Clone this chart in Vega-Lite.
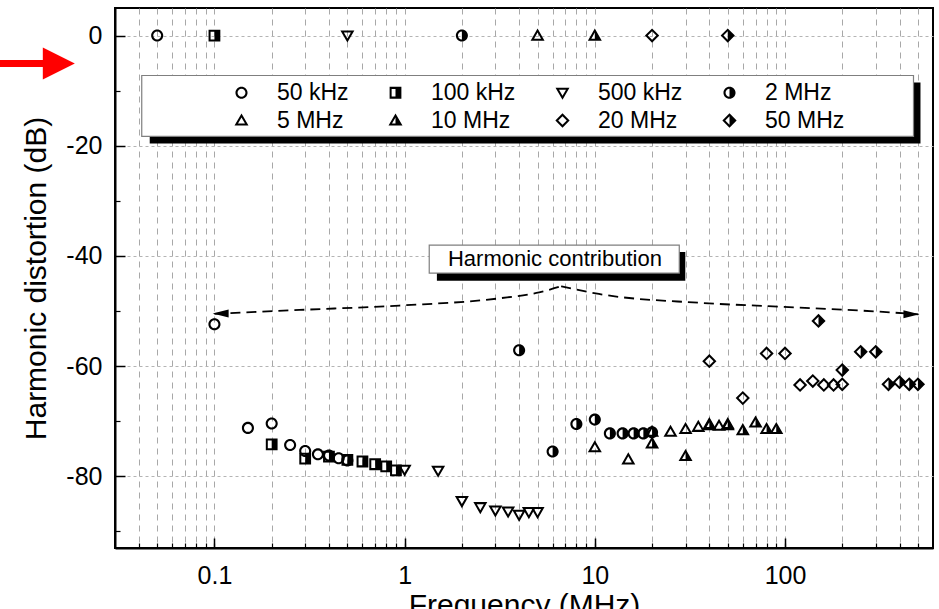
{
  "$schema": "https://vega.github.io/schema/vega-lite/v6.json",
  "width": 818,
  "height": 540,
  "autosize": {"type": "none"},
  "padding": {"left": 115, "top": 8, "right": 6, "bottom": 61},
  "config": {
    "font": "Liberation Sans",
    "view": {"stroke": "black", "strokeWidth": 2},
    "axis": {
      "domainColor": "black", "domainWidth": 2, "tickColor": "black",
      "labelColor": "black", "titleColor": "black", "titleFontWeight": "normal",
      "labelFont": "Liberation Sans", "titleFont": "Liberation Sans",
      "gridColor": "#a8a8a8", "gridWidth": 1
    }
  },
  "datasets": {
    "pts": [
      {"f": 0.05, "db": 0, "s": "50 kHz"},
      {"f": 0.1, "db": -52.4, "s": "50 kHz"},
      {"f": 0.15, "db": -71.2, "s": "50 kHz"},
      {"f": 0.2, "db": -70.4, "s": "50 kHz"},
      {"f": 0.25, "db": -74.3, "s": "50 kHz"},
      {"f": 0.3, "db": -75.4, "s": "50 kHz"},
      {"f": 0.35, "db": -76.0, "s": "50 kHz"},
      {"f": 0.4, "db": -76.2, "s": "50 kHz"},
      {"f": 0.45, "db": -76.7, "s": "50 kHz"},
      {"f": 0.5, "db": -77.1, "s": "50 kHz"},
      {"f": 0.1, "db": 0, "s": "100 kHz"},
      {"f": 0.2, "db": -74.2, "s": "100 kHz"},
      {"f": 0.3, "db": -76.8, "s": "100 kHz"},
      {"f": 0.4, "db": -76.4, "s": "100 kHz"},
      {"f": 0.5, "db": -77.0, "s": "100 kHz"},
      {"f": 0.6, "db": -77.3, "s": "100 kHz"},
      {"f": 0.7, "db": -77.8, "s": "100 kHz"},
      {"f": 0.8, "db": -78.2, "s": "100 kHz"},
      {"f": 0.9, "db": -78.9, "s": "100 kHz"},
      {"f": 0.5, "db": 0, "s": "500 kHz"},
      {"f": 1.0, "db": -78.8, "s": "500 kHz"},
      {"f": 1.5, "db": -79.0, "s": "500 kHz"},
      {"f": 2, "db": -84.5, "s": "500 kHz"},
      {"f": 2.5, "db": -85.6, "s": "500 kHz"},
      {"f": 3, "db": -86.2, "s": "500 kHz"},
      {"f": 3.5, "db": -86.4, "s": "500 kHz"},
      {"f": 4, "db": -87.0, "s": "500 kHz"},
      {"f": 4.5, "db": -86.5, "s": "500 kHz"},
      {"f": 5, "db": -86.5, "s": "500 kHz"},
      {"f": 2, "db": 0, "s": "2 MHz"},
      {"f": 4, "db": -57.1, "s": "2 MHz"},
      {"f": 6, "db": -75.5, "s": "2 MHz"},
      {"f": 8, "db": -70.5, "s": "2 MHz"},
      {"f": 10, "db": -69.7, "s": "2 MHz"},
      {"f": 12, "db": -72.2, "s": "2 MHz"},
      {"f": 14, "db": -72.2, "s": "2 MHz"},
      {"f": 16, "db": -72.2, "s": "2 MHz"},
      {"f": 18, "db": -72.2, "s": "2 MHz"},
      {"f": 20, "db": -72.0, "s": "2 MHz"},
      {"f": 5, "db": 0, "s": "5 MHz"},
      {"f": 10, "db": -74.7, "s": "5 MHz"},
      {"f": 15, "db": -76.9, "s": "5 MHz"},
      {"f": 20, "db": -71.9, "s": "5 MHz"},
      {"f": 25, "db": -71.9, "s": "5 MHz"},
      {"f": 30, "db": -71.4, "s": "5 MHz"},
      {"f": 35, "db": -71.0, "s": "5 MHz"},
      {"f": 40, "db": -70.7, "s": "5 MHz"},
      {"f": 45, "db": -70.8, "s": "5 MHz"},
      {"f": 50, "db": -70.7, "s": "5 MHz"},
      {"f": 10, "db": 0, "s": "10 MHz"},
      {"f": 20, "db": -74.0, "s": "10 MHz"},
      {"f": 30, "db": -76.3, "s": "10 MHz"},
      {"f": 40, "db": -70.5, "s": "10 MHz"},
      {"f": 50, "db": -70.5, "s": "10 MHz"},
      {"f": 60, "db": -71.6, "s": "10 MHz"},
      {"f": 70, "db": -70.2, "s": "10 MHz"},
      {"f": 80, "db": -71.4, "s": "10 MHz"},
      {"f": 90, "db": -71.4, "s": "10 MHz"},
      {"f": 20, "db": 0, "s": "20 MHz"},
      {"f": 40, "db": -59.1, "s": "20 MHz"},
      {"f": 60, "db": -65.8, "s": "20 MHz"},
      {"f": 80, "db": -57.7, "s": "20 MHz"},
      {"f": 100, "db": -57.7, "s": "20 MHz"},
      {"f": 120, "db": -63.4, "s": "20 MHz"},
      {"f": 140, "db": -62.7, "s": "20 MHz"},
      {"f": 160, "db": -63.4, "s": "20 MHz"},
      {"f": 180, "db": -63.4, "s": "20 MHz"},
      {"f": 200, "db": -63.3, "s": "20 MHz"},
      {"f": 50, "db": 0, "s": "50 MHz"},
      {"f": 150, "db": -51.8, "s": "50 MHz"},
      {"f": 200, "db": -60.7, "s": "50 MHz"},
      {"f": 250, "db": -57.4, "s": "50 MHz"},
      {"f": 300, "db": -57.4, "s": "50 MHz"},
      {"f": 350, "db": -63.3, "s": "50 MHz"},
      {"f": 400, "db": -62.9, "s": "50 MHz"},
      {"f": 450, "db": -63.3, "s": "50 MHz"},
      {"f": 500, "db": -63.3, "s": "50 MHz"}
    ],
    "curve": [
      {"f": 0.1, "db": -50.5, "side": "L"},
      {"f": 0.28, "db": -49.8, "side": "L"},
      {"f": 0.937, "db": -49.0, "side": "L"},
      {"f": 3.13, "db": -47.7, "side": "L"},
      {"f": 5.1, "db": -46.6, "side": "L"},
      {"f": 6.65, "db": -45.5, "side": "L"},
      {"f": 6.65, "db": -45.5, "side": "R"},
      {"f": 10.5, "db": -46.9, "side": "R"},
      {"f": 35.3, "db": -48.5, "side": "R"},
      {"f": 92.8, "db": -49.2, "side": "R"},
      {"f": 309, "db": -50.1, "side": "R"},
      {"f": 503, "db": -50.6, "side": "R"}
    ],
    "headL": [{"f": 0.1078, "db": -50.45}],
    "headR": [{"f": 462, "db": -50.6}],
    "shadows": [
      {"x1": 0.04568, "x2": 515.6, "y1": -8.51, "y2": -19.57},
      {"x1": 1.478, "x2": 29.9, "y1": -39.26, "y2": -44.5}
    ],
    "boxes": [
      {"x1": 0.04147, "x2": 473.8, "y1": -7.25, "y2": -18.3},
      {"x1": 1.347, "x2": 27.8, "y1": -38.04, "y2": -43.1}
    ],
    "notes": [
      {"f": 6.17, "db": -40.6, "text": "Harmonic contribution"}
    ],
    "redarrow": [
      {"from": 0.00745, "to": 0.0135, "head": 0.0152, "db": -5.07}
    ]
  },
  "resolve": {"axis": {"x": "independent", "y": "independent"}},
  "layer": [
    {
      "data": {"name": "curve"},
      "mark": {"type": "line", "color": "black", "strokeWidth": 1.8, "strokeDash": [10, 6], "interpolate": "monotone"},
      "encoding": {
        "x": {
          "field": "f", "type": "quantitative",
          "scale": {"type": "log", "domain": [0.03, 600], "nice": false},
          "axis": {
            "orient": "bottom",
            "values": [0.04, 0.05, 0.06, 0.07, 0.08, 0.09, 0.1, 0.2, 0.3, 0.4, 0.5, 0.6, 0.7, 0.8, 0.9, 1, 2, 3, 4, 5, 6, 7, 8, 9, 10, 20, 30, 40, 50, 60, 70, 80, 90, 100, 200, 300, 400, 500],
            "labels": false, "ticks": true, "tickSize": -5, "tickWidth": 1.2,
            "grid": true, "gridDash": [6, 5], "domain": false, "title": null
          }
        },
        "y": {
          "field": "db", "type": "quantitative",
          "scale": {"domain": [-93, 5], "nice": false, "zero": false},
          "axis": {
            "orient": "left",
            "values": [-10, -30, -50, -70, -90],
            "labels": false, "ticks": true, "tickSize": -5, "tickWidth": 1.2,
            "grid": false, "domain": false, "title": null
          }
        },
        "detail": {"field": "side"}
      }
    },
    {
      "data": {"name": "headL"},
      "mark": {"type": "point", "filled": true, "color": "black", "opacity": 1, "strokeWidth": 0, "size": 256, "shape": "M-1,0L1,-0.5L1,0.5Z"},
      "encoding": {
        "x": {"field": "f", "type": "quantitative", "scale": {"type": "log", "domain": [0.03, 600], "nice": false}, "axis": null},
        "y": {"field": "db", "type": "quantitative", "scale": {"domain": [-93, 5], "nice": false, "zero": false}, "axis": null}
      }
    },
    {
      "data": {"name": "headR"},
      "mark": {"type": "point", "filled": true, "color": "black", "opacity": 1, "strokeWidth": 0, "size": 256, "shape": "M1,0L-1,-0.5L-1,0.5Z"},
      "encoding": {
        "x": {"field": "f", "type": "quantitative", "scale": {"type": "log", "domain": [0.03, 600], "nice": false}, "axis": null},
        "y": {"field": "db", "type": "quantitative", "scale": {"domain": [-93, 5], "nice": false, "zero": false}, "axis": null}
      }
    },
    {
      "data": {"name": "pts"},
      "mark": {"type": "point", "filled": true, "color": "black", "opacity": 1, "strokeWidth": 0, "size": 240},
      "encoding": {
        "x": {
          "field": "f", "type": "quantitative",
          "scale": {"type": "log", "domain": [0.03, 600], "nice": false},
          "axis": {
            "orient": "bottom", "values": [0.1, 1, 10, 100], "format": "~g",
            "tickSize": -10, "tickWidth": 1.5, "labelFontSize": 25, "labelPadding": 25,
            "grid": false, "domain": true,
            "title": "Frequency (MHz)", "titleFontSize": 30, "titlePadding": 2
          }
        },
        "y": {
          "field": "db", "type": "quantitative",
          "scale": {"domain": [-93, 5], "nice": false, "zero": false},
          "axis": {
            "orient": "left", "values": [0, -20, -40, -60, -80],
            "labelExpr": "datum.value + ''",
            "tickSize": -10, "tickWidth": 1.5, "labelFontSize": 25, "labelPadding": 23,
            "grid": true, "gridDash": [3, 3], "gridColor": "#b4b4b4", "domain": true,
            "title": "Harmonic distortion (dB)", "titleFontSize": 30, "titlePadding": 14
          }
        },
        "shape": {
          "field": "s", "type": "nominal",
          "scale": {
            "domain": ["50 kHz", "100 kHz", "500 kHz", "2 MHz", "5 MHz", "10 MHz", "20 MHz", "50 MHz"],
            "range": [
              "M0.78,0A0.78,0.78,0,1,1,-0.78,0A0.78,0.78,0,1,1,0.78,0ZM0.51,0A0.51,0.51,0,1,0,-0.51,0A0.51,0.51,0,1,0,0.51,0Z",
              "M-0.76,-0.76L0.76,-0.76L0.76,0.76L-0.76,0.76ZM-0.5,-0.5L-0.5,0.5L0,0.5L0,-0.5Z",
              "M-0.9,-0.66L0.9,-0.66L0,0.9ZM-0.45,-0.4L0,0.38L0.45,-0.4Z",
              "M0.78,0A0.78,0.78,0,1,1,-0.78,0A0.78,0.78,0,1,1,0.78,0ZM0,-0.51A0.51,0.51,0,0,0,0,0.51Z",
              "M0,-0.9L0.9,0.66L-0.9,0.66ZM0,-0.38L-0.45,0.4L0.45,0.4Z",
              "M0,-0.9L0.9,0.66L-0.9,0.66ZM0,-0.38L-0.45,0.4L0,0.4Z",
              "M0,-0.92L0.92,0L0,0.92L-0.92,0ZM0,-0.55L-0.55,0L0,0.55L0.55,0Z",
              "M0,-0.92L0.92,0L0,0.92L-0.92,0ZM0,-0.55L-0.55,0L0,0.55Z"
            ]
          },
          "legend": {
            "orient": "none", "legendX": 115, "legendY": 73, "columns": 4, "direction": "horizontal", "title": null,
            "padding": 0, "labelFontSize": 23, "labelFont": "Liberation Sans", "labelColor": "black",
            "labelLimit": 300, "symbolSize": 240, "labelOffset": 24, "columnPadding": 35, "rowPadding": 4,
            "symbolFillColor": "black", "symbolStrokeWidth": 0, "symbolOpacity": 1
          }
        }
      }
    },
    {
      "data": {"name": "shadows"},
      "mark": {"type": "rect", "fill": "black"},
      "encoding": {
        "x": {"field": "x1", "type": "quantitative", "scale": {"type": "log", "domain": [0.03, 600], "nice": false}, "axis": null},
        "x2": {"field": "x2"},
        "y": {"field": "y1", "type": "quantitative", "scale": {"domain": [-93, 5], "nice": false, "zero": false}, "axis": null},
        "y2": {"field": "y2"}
      }
    },
    {
      "data": {"name": "boxes"},
      "mark": {"type": "rect", "fill": "white", "stroke": "#7f7f7f", "strokeWidth": 1.2},
      "encoding": {
        "x": {"field": "x1", "type": "quantitative", "scale": {"type": "log", "domain": [0.03, 600], "nice": false}, "axis": null},
        "x2": {"field": "x2"},
        "y": {"field": "y1", "type": "quantitative", "scale": {"domain": [-93, 5], "nice": false, "zero": false}, "axis": null},
        "y2": {"field": "y2"}
      }
    },
    {
      "data": {"name": "notes"},
      "mark": {"type": "text", "fontSize": 22, "color": "black", "align": "center", "baseline": "middle", "font": "Liberation Sans"},
      "encoding": {
        "x": {"field": "f", "type": "quantitative", "scale": {"type": "log", "domain": [0.03, 600], "nice": false}, "axis": null},
        "y": {"field": "db", "type": "quantitative", "scale": {"domain": [-93, 5], "nice": false, "zero": false}, "axis": null},
        "text": {"field": "text"}
      }
    },
    {
      "data": {"name": "redarrow"},
      "mark": {"type": "rule", "color": "#ff0000", "strokeWidth": 7},
      "encoding": {
        "x": {"field": "from", "type": "quantitative", "scale": {"type": "log", "domain": [0.03, 600], "nice": false}, "axis": null},
        "x2": {"field": "to"},
        "y": {"field": "db", "type": "quantitative", "scale": {"domain": [-93, 5], "nice": false, "zero": false}, "axis": null}
      }
    },
    {
      "data": {"name": "redarrow"},
      "mark": {"type": "point", "filled": true, "color": "#ff0000", "opacity": 1, "strokeWidth": 0, "size": 1024, "shape": "M-1,-1L1,0L-1,1Z"},
      "encoding": {
        "x": {"field": "head", "type": "quantitative", "scale": {"type": "log", "domain": [0.03, 600], "nice": false}, "axis": null},
        "y": {"field": "db", "type": "quantitative", "scale": {"domain": [-93, 5], "nice": false, "zero": false}, "axis": null}
      }
    }
  ]
}
